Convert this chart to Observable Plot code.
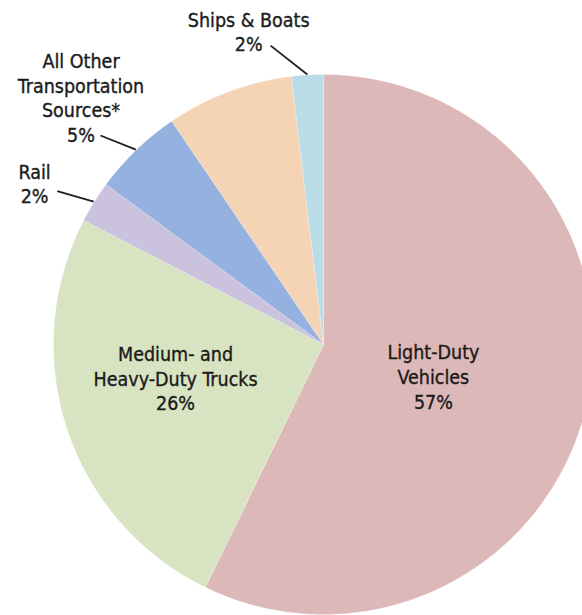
<!DOCTYPE html>
<html><head><meta charset="utf-8">
<script src="https://cdn.jsdelivr.net/npm/d3@7"></script>
<script src="https://cdn.jsdelivr.net/npm/@observablehq/plot@0.6"></script>
<style>html,body{margin:0;padding:0;background:#fff;overflow:hidden} svg{display:block}</style>
</head><body><div id="chart"></div>
<script>
// ---- data ----
const categories = ["Light-Duty Vehicles", "Medium- and Heavy-Duty Trucks", "Rail", "All Other Transportation Sources*", "Aircraft", "Ships & Boats"];
const shares = [57.2, 25.4, 2.5, 5.4, 7.6, 1.9];
const labelNames = ["Light-Duty\nVehicles", "Medium- and\nHeavy-Duty Trucks", "Rail", "All Other\nTransportation\nSources*", null, "Ships & Boats"];
const labelPercents = ["57%", "26%", "2%", "5%", null, "2%"];
const colors = ["#ddb8b8", "#d8e3c1", "#cbc2de", "#94b1df", "#f4d4b5", "#b9dce6"];

// ---- layout (radius units, relative to pie centre) ----
const labelPos = [[0.407, -0.117], [-0.548, -0.124], [-1.070, 0.598], [-0.898, 0.916], null, [-0.277, 1.160]];
const leaderOuter = [null, null, [-0.986, 0.568], [-0.826, 0.774], null, [-0.196, 1.107]];

const W = 582, H = 615, R = 270, CX = 323, CY = 344;
const FONT = "'DejaVu Sans Condensed', 'Liberation Sans', Arial, sans-serif";

const arcs = d3.pie().sort(null).value(d => d)(shares);
const slicePts = [];
arcs.forEach((p, i) => {
  const cat = categories[i];
  slicePts.push({cat, x: 0, y: 0});
  const n = Math.max(2, Math.ceil((p.endAngle - p.startAngle) / (Math.PI / 360)));
  for (let k = 0; k <= n; k++) {
    const a = p.startAngle + (p.endAngle - p.startAngle) * k / n;
    slicePts.push({cat, x: Math.sin(a), y: Math.cos(a)});
  }
});

const labels = [];
const leaders = [];
arcs.forEach((p, i) => {
  if (!labelNames[i]) return;
  labels.push({text: labelNames[i] + "\n" + labelPercents[i], x: labelPos[i][0], y: labelPos[i][1]});
  if (leaderOuter[i]) {
    const m = (p.startAngle + p.endAngle) / 2;
    leaders.push({x1: leaderOuter[i][0], y1: leaderOuter[i][1], x2: Math.sin(m) * 1.002, y2: Math.cos(m) * 1.002});
  }
});

const chart = Plot.plot({
  width: W, height: H,
  margin: 0,
  style: {background: "#fff", fontFamily: FONT},
  x: {domain: [-CX / R, (W - CX) / R], axis: null},
  y: {domain: [(CY - H) / R, CY / R], axis: null},
  color: {domain: categories, range: colors},
  marks: [
    Plot.line(slicePts, {x: "x", y: "y", z: "cat", fill: "cat", stroke: "#ffffff", strokeWidth: 0.5, strokeOpacity: 0.5, curve: "linear-closed", clip: true}),
    Plot.link(leaders, {x1: "x1", y1: "y1", x2: "x2", y2: "y2", stroke: "#1e1e1e", strokeWidth: 1.8}),
    Plot.text(labels, {x: "x", y: "y", text: "text", fontSize: 19.5, lineHeight: 1.26, fill: "#1a1a1a", stroke: "#1a1a1a", strokeWidth: 0.35, fontFamily: FONT})
  ]
});
document.getElementById("chart").appendChild(chart);
</script>
</body></html>
